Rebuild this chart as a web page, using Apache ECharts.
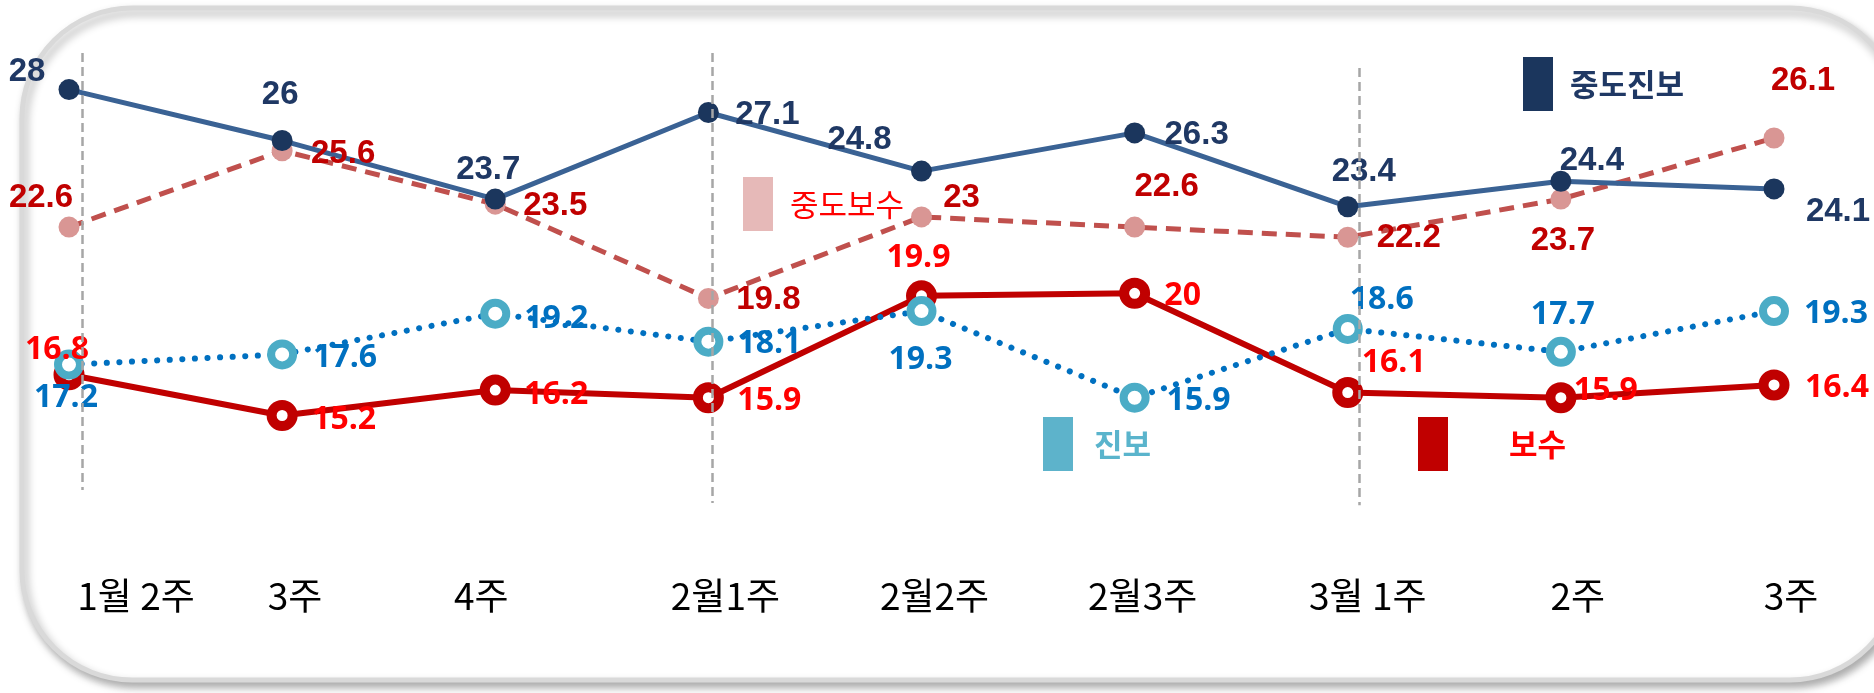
<!DOCTYPE html>
<html>
<head>
<meta charset="utf-8">
<script src="https://cdn.jsdelivr.net/npm/echarts@6/dist/echarts.min.js"></script>
<style>
	html, body { margin: 0; padding: 0; background: #fff; }
	#chart { width: 1874px; height: 693px; }
</style>
</head>
<body>
<div id="chart"></div>
<script>
// 주차
let weeks = ['1월 2주', '3주', '4주', '2월1주', '2월2주', '2월3주', '3월 1주', '2주', '3주'];
// 성향별 지지율
let mid_prog = [28, 26, 23.7, 27.1, 24.8, 26.3, 23.4, 24.4, 24.1]; // 중도진보
let mid_cons = [22.6, 25.6, 23.5, 19.8, 23, 22.6, 22.2, 23.7, 26.1]; // 중도보수
let prog = [17.2, 17.6, 19.2, 18.1, 19.3, 15.9, 18.6, 17.7, 19.3]; // 진보
let cons = [16.8, 15.2, 16.2, 15.9, 19.9, 20, 16.1, 15.9, 16.4]; // 보수
// 점선 구분선 (주차 인덱스 기준, 살짝 오른쪽)
let divider_at = [0.064, 3.02, 6.056];
let divider_top = [29.44, 29.44, 28.85];
let divider_bottom = [12.27, 11.76, 11.68];

// 라벨 위치 (px)
let tick_shift = [67, 13, -14, 17, 13, 8, 20, 17, 17];
let mid_prog_off = [[-42, -18], [-2, -46], [-7, -29], [59, 2], [-62, -31], [62, 2], [16, -35], [31, -20], [64, 23]];
let mid_cons_off = [[-28, -29], [61, 3], [60, 2], [60, 2], [40, -19], [32, -40], [61, 1], [2, 42], [29, -57]];
let prog_off = [[-3, 33], [63, 3], [61, 5], [61, 2], [-1, 49], [64, 3], [34, -29], [2, -37], [62, 3]];
let cons_off = [[-12, -25], [62, 4], [61, 5], [61, 3], [-3, -38], [48, 3], [46, -30], [45, -7], [63, 3]];

let chart = echarts.init(document.getElementById('chart'));

function with_label(values, offsets) {
	return values.map((v, i) => ({ value: v, label: { offset: offsets[i] } }));
}

let categories = weeks.map((w, i) => {
	let s = tick_shift[i];
	return {
		value: w,
		textStyle: { padding: s >= 0 ? [0, 0, 0, 2 * s] : [0, -2 * s, 0, 0] },
	};
});

let divider_lines = divider_at.map((x, i) => [
	{ coord: [x, divider_top[i]] },
	{ coord: [x, divider_bottom[i]] },
]);

let arial_label = {
	show: true,
	position: 'inside',
	fontFamily: 'Liberation Sans',
	fontWeight: 'bold',
	fontSize: 33,
	align: 'center',
	verticalAlign: 'middle',
};
let open_label = {
	show: true,
	position: 'inside',
	fontFamily: 'Open Sans',
	fontWeight: 'bold',
	fontSize: 32,
	align: 'center',
	verticalAlign: 'middle',
};

function legend_box(name, left, top, rect_color, text_color, weight, gap) {
	return {
		left: left,
		top: top,
		padding: 0,
		icon: 'rect',
		itemWidth: 30,
		itemHeight: 54,
		selectedMode: false,
		data: [{
			name: name,
			itemStyle: { color: rect_color, borderWidth: 0 },
			textStyle: {
				color: text_color,
				fontWeight: weight,
				fontSize: 31,
				fontFamily: 'Noto Sans CJK KR',
				padding: [0, 0, 0, gap],
			},
		}],
	};
}

let option = {
	animation: false,
	textStyle: { fontFamily: 'Noto Sans CJK KR' },
	graphic: [{
		type: 'rect',
		silent: true,
		z: -10,
		shape: { x: 22, y: 8, width: 1878, height: 672, r: 110 },
		style: {
			fill: '#fff',
			stroke: '#d9d9d9',
			lineWidth: 5,
			shadowColor: 'rgba(0,0,0,0.3)',
			shadowBlur: 8,
			shadowOffsetX: 3,
			shadowOffsetY: 5,
		},
	}],
	legend: [
		legend_box('중도진보', 1523, 57, '#1b365d', '#1f3864', 'bold', 12),
		legend_box('중도보수', 743, 177, '#e6b9b8', '#ff0000', 'normal', 12),
		legend_box('진보', 1043, 417, '#5db3cb', '#5ab4cc', 'bold', 16),
		legend_box('보수', 1418, 417, '#c00000', '#ff0000', 'bold', 56),
	],
	grid: {
		left: 69,
		right: 100,
		top: 38.7,
		bottom: 145.1,
		containLabel: false,
		outerBoundsMode: 'none',
	},
	xAxis: [
		{
			type: 'category',
			boundaryGap: false,
			data: categories,
			axisLine: { show: false },
			axisTick: { show: false },
			splitLine: { show: false },
			axisLabel: {
				interval: 0,
				margin: 30,
				color: '#000',
				fontSize: 37,
				fontFamily: 'Noto Sans CJK KR',
				verticalAlign: 'top',
			},
		},
		{
			// 구분선용 보조축 (카테고리와 같은 눈금)
			type: 'value',
			min: 0,
			max: weeks.length - 1,
			show: false,
		},
	],
	yAxis: {
		type: 'value',
		min: 10,
		max: 30,
		show: false,
		splitLine: { show: false },
	},
	series: [
		{
			type: 'line',
			xAxisIndex: 1,
			data: [],
			silent: true,
			markLine: {
				silent: true,
				symbol: 'none',
				label: { show: false },
				lineStyle: { color: '#a6a6a6', width: 2.5, type: [9, 5] },
				data: divider_lines,
			},
		},
		{
			name: '보수',
			type: 'line',
			data: with_label(cons, cons_off),
			symbol: 'circle',
			symbolSize: 21,
			lineStyle: { color: '#c00000', width: 6 },
			itemStyle: { color: '#fff', borderColor: '#c00000', borderWidth: 10 },
			label: Object.assign({}, open_label, { color: '#ff0000' }),
		},
		{
			name: '진보',
			type: 'line',
			data: with_label(prog, prog_off),
			symbol: 'circle',
			symbolSize: 22,
			lineStyle: { color: '#0070c0', width: 6, type: [0.1, 12.5], cap: 'round' },
			itemStyle: { color: '#fff', borderColor: '#4bacc6', borderWidth: 8 },
			label: Object.assign({}, open_label, { color: '#0070c0' }),
		},
		{
			name: '중도보수',
			type: 'line',
			data: with_label(mid_cons, mid_cons_off),
			symbol: 'circle',
			symbolSize: 21,
			lineStyle: { color: '#c0504d', width: 5, type: [15, 9] },
			itemStyle: { color: '#d99694' },
			label: Object.assign({}, arial_label, { color: '#c00000' }),
		},
		{
			name: '중도진보',
			type: 'line',
			data: with_label(mid_prog, mid_prog_off),
			symbol: 'circle',
			symbolSize: 21,
			lineStyle: { color: '#3a6294', width: 5 },
			itemStyle: { color: '#1b365d' },
			label: Object.assign({}, arial_label, { color: '#1f3864' }),
		},
	],
};
chart.setOption(option);
</script>
</body>
</html>
